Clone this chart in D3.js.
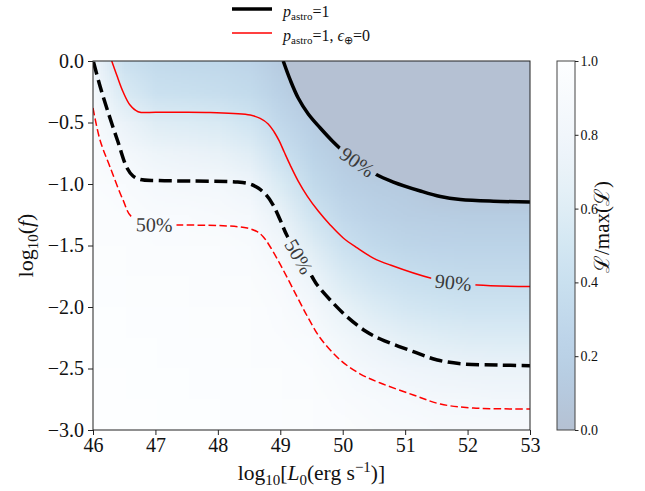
<!DOCTYPE html>
<html>
<head>
<meta charset="utf-8">
<script src="https://cdn.jsdelivr.net/npm/d3@7"></script>
<style>
  body { margin: 0; background: #fff; }
  svg text { font-family: "Liberation Serif", "Times New Roman", serif; }
</style>
</head>
<body>
<div id="chart"></div>
<script>
// ************** data *************************************
// likelihood grid: columns = log10 L0, rows = log10 f (top to bottom)
var xVals = [46, 46.5, 47, 47.5, 48, 48.5, 49, 49.5, 50, 50.5, 51, 51.5, 52, 52.5, 53];
var yVals = [0, -0.25, -0.5, -0.75, -1, -1.25, -1.5, -1.75, -2, -2.25, -2.5, -2.75, -3];
var likeRows = [
  [0.78, 0.42, 0.33, 0.31, 0.29, 0.26, 0.14, 0.00, 0.00, 0.00, 0.00, 0.00, 0.00, 0.00, 0.00],
  [0.86, 0.55, 0.42, 0.40, 0.38, 0.33, 0.20, 0.08, 0.00, 0.00, 0.00, 0.00, 0.00, 0.00, 0.00],
  [0.90, 0.72, 0.60, 0.58, 0.55, 0.47, 0.30, 0.17, 0.05, 0.00, 0.00, 0.00, 0.00, 0.00, 0.00],
  [0.94, 0.85, 0.76, 0.73, 0.70, 0.62, 0.42, 0.24, 0.14, 0.04, 0.00, 0.00, 0.00, 0.00, 0.00],
  [0.96, 0.92, 0.88, 0.86, 0.84, 0.77, 0.56, 0.33, 0.20, 0.15, 0.12, 0.05, 0.02, 0.02, 0.02],
  [0.97, 0.95, 0.93, 0.92, 0.91, 0.87, 0.70, 0.46, 0.30, 0.22, 0.18, 0.16, 0.15, 0.15, 0.15],
  [0.98, 0.97, 0.96, 0.95, 0.95, 0.93, 0.82, 0.60, 0.42, 0.32, 0.27, 0.25, 0.24, 0.24, 0.24],
  [0.99, 0.98, 0.97, 0.97, 0.96, 0.95, 0.90, 0.74, 0.55, 0.45, 0.39, 0.36, 0.34, 0.34, 0.34],
  [0.99, 0.99, 0.98, 0.98, 0.97, 0.97, 0.94, 0.85, 0.69, 0.58, 0.51, 0.47, 0.45, 0.45, 0.45],
  [1.00, 0.99, 0.99, 0.98, 0.98, 0.97, 0.96, 0.92, 0.81, 0.72, 0.65, 0.61, 0.59, 0.58, 0.58],
  [1.00, 1.00, 0.99, 0.99, 0.98, 0.98, 0.97, 0.95, 0.89, 0.83, 0.78, 0.75, 0.73, 0.72, 0.72],
  [1.00, 1.00, 1.00, 0.99, 0.99, 0.98, 0.98, 0.97, 0.94, 0.90, 0.87, 0.85, 0.84, 0.83, 0.83],
  [1.00, 1.00, 1.00, 1.00, 0.99, 0.99, 0.98, 0.98, 0.97, 0.94, 0.92, 0.91, 0.90, 0.90, 0.90]
];

// contours [log10 L0, log10 f]
var astro90 = [[49.047, 0], [49.159, -0.154], [49.287, -0.301], [49.448, -0.431], [49.640, -0.545],
  [49.833, -0.650], [50.041, -0.748], [50.282, -0.837], [50.522, -0.919], [50.811, -0.984],
  [51.244, -1.057], [51.564, -1.102], [51.885, -1.126], [52.414, -1.140], [53.0, -1.146]];
var astro50 = [[46.008, -0.008], [46.112, -0.203], [46.241, -0.415], [46.401, -0.659], [46.545, -0.870],
  [46.641, -0.935], [46.754, -0.963], [47.026, -0.972], [47.555, -0.976], [48.309, -0.984],
  [48.518, -1.000], [48.646, -1.033], [48.774, -1.089], [48.886, -1.171], [48.999, -1.293],
  [49.111, -1.423], [49.319, -1.593], [49.512, -1.756], [49.592, -1.821], [49.800, -1.943],
  [50.073, -2.081], [50.362, -2.195], [50.602, -2.260], [51.131, -2.363], [51.516, -2.431],
  [51.933, -2.463], [52.478, -2.472], [53.0, -2.477]];
var noEarth90 = [[46.300, 0], [46.380, -0.114], [46.481, -0.250], [46.593, -0.358], [46.722, -0.412],
  [47.021, -0.417], [47.876, -0.419], [48.518, -0.439], [48.678, -0.467], [48.806, -0.512],
  [48.902, -0.577], [48.983, -0.650], [49.063, -0.740], [49.159, -0.846], [49.287, -0.976],
  [49.432, -1.098], [49.608, -1.220], [49.800, -1.333], [50.009, -1.439], [50.233, -1.520],
  [50.490, -1.602], [50.763, -1.659], [51.404, -1.764], [51.789, -1.797], [52.158, -1.821],
  [53.0, -1.833]];
var noEarth50 = [[46.0, -0.382], [46.112, -0.642], [46.273, -0.862], [46.481, -1.130], [46.621, -1.268],
  [46.994, -1.329], [47.363, -1.333], [48.085, -1.339], [48.470, -1.358], [48.630, -1.388],
  [48.726, -1.428], [48.838, -1.510], [49.047, -1.699], [49.271, -1.919], [49.448, -2.089],
  [49.640, -2.252], [49.961, -2.431], [50.282, -2.545], [50.602, -2.618], [51.131, -2.715],
  [51.564, -2.789], [52.094, -2.821], [53.0, -2.829]];

var xTicks = [46, 47, 48, 49, 50, 51, 52, 53];
var yTicks = [0, -0.5, -1, -1.5, -2, -2.5, -3];
var cbTicks = [0, 0.2, 0.4, 0.6, 0.8, 1];

// ************** layout *****************
var widthTotal = 645, heightTotal = 491;
var plot = {left: 93, right: 530, top: 61, bottom: 430};
var cb = {left: 557, right: 575, top: 61, bottom: 430};

var x = d3.scaleLinear().domain([46, 53]).range([plot.left, plot.right]);
var y = d3.scaleLinear().domain([-3, 0]).range([plot.bottom, plot.top]);
var cbScale = d3.scaleLinear().domain([0, 1]).range([cb.bottom, cb.top]);

// Blues_r drawn with alpha 0.3 on white
function likeColor(v) {
  var c = d3.rgb(d3.interpolateBlues(1 - v)), a = 0.3;
  return d3.rgb(255 * (1 - a) + c.r * a, 255 * (1 - a) + c.g * a, 255 * (1 - a) + c.b * a);
}

var svg = d3.select("#chart").append("svg")
  .attr("width", widthTotal)
  .attr("height", heightTotal);
var defs = svg.append("defs");

defs.append("clipPath").attr("id", "plotClip")
  .append("rect")
  .attr("x", plot.left).attr("y", plot.top)
  .attr("width", plot.right - plot.left).attr("height", plot.bottom - plot.top);

//heatmap, one pixel per grid cell, smoothed by the browser
var canvas = document.createElement("canvas");
canvas.width = xVals.length;
canvas.height = yVals.length;
var ctx = canvas.getContext("2d");
var img = ctx.createImageData(canvas.width, canvas.height);
likeRows.forEach(function(row, j) {
  row.forEach(function(v, i) {
    var c = likeColor(v), k = (j * canvas.width + i) * 4;
    img.data[k] = Math.round(c.r);
    img.data[k + 1] = Math.round(c.g);
    img.data[k + 2] = Math.round(c.b);
    img.data[k + 3] = 255;
  });
});
ctx.putImageData(img, 0, 0);

var halfX = (xVals[1] - xVals[0]) / 2, halfY = (yVals[0] - yVals[1]) / 2;
var gPlot = svg.append("g").attr("clip-path", "url(#plotClip)");
gPlot.append("image")
  .attr("href", canvas.toDataURL())
  .attr("x", x(xVals[0] - halfX))
  .attr("y", y(yVals[0] + halfY))
  .attr("width", x(xVals[xVals.length - 1] + halfX) - x(xVals[0] - halfX))
  .attr("height", y(yVals[yVals.length - 1] - halfY) - y(yVals[0] + halfY))
  .attr("preserveAspectRatio", "none")
  .style("image-rendering", "auto");

var line = d3.line()
  .x(function(d) { return x(d[0]); })
  .y(function(d) { return y(d[1]); })
  .curve(d3.curveCatmullRom.alpha(0.5));

//excluded region above the 90% contour
gPlot.append("path")
  .attr("d", line(astro90) + "L" + x(53) + "," + y(0) + "Z")
  .attr("fill", likeColor(0));

//contours with inline labels
var contours = [
  {id: "c1", data: noEarth50, color: "#ff0000", width: 1.5, dash: "7.5,3.3", label: "50%", at: [46.98, -1.33], angle: 1},
  {id: "c2", data: astro50, color: "#000", width: 3.5, dash: "13,5.5", label: "50%", at: [49.30, -1.59], angle: 60},
  {id: "c3", data: noEarth90, color: "#ff0000", width: 1.5, dash: null, label: "90%", at: [51.77, -1.80], angle: 6},
  {id: "c4", data: astro90, color: "#000", width: 3.5, dash: null, label: "90%", at: [50.234, -0.821], angle: 35}
];

var gLabels = svg.append("g");
contours.forEach(function(c) {
  var px = x(c.at[0]), py = y(c.at[1]);
  var t = gLabels.append("text")
    .attr("transform", "translate(" + px + "," + py + ") rotate(" + c.angle + ")")
    .attr("text-anchor", "middle")
    .attr("dy", "0.35em")
    .attr("font-size", "20px")
    .attr("fill", "#3a3a3a")
    .text(c.label);
  var w = t.node().getComputedTextLength();

  var mask = defs.append("mask").attr("id", c.id)
    .attr("maskUnits", "userSpaceOnUse")
    .attr("x", 0).attr("y", 0).attr("width", widthTotal).attr("height", heightTotal);
  mask.append("rect").attr("width", widthTotal).attr("height", heightTotal).attr("fill", "white");
  mask.append("rect")
    .attr("x", -w / 2 - 4).attr("y", -9)
    .attr("width", w + 8).attr("height", 18)
    .attr("transform", "translate(" + px + "," + py + ") rotate(" + c.angle + ")")
    .attr("fill", "black");

  gPlot.append("g").attr("mask", "url(#" + c.id + ")")
    .append("path")
    .attr("d", line(c.data))
    .attr("fill", "none")
    .attr("stroke", c.color)
    .attr("stroke-width", c.width)
    .attr("stroke-dasharray", c.dash);
});

//frame
svg.append("rect")
  .attr("x", plot.left).attr("y", plot.top)
  .attr("width", plot.right - plot.left).attr("height", plot.bottom - plot.top)
  .attr("fill", "none").attr("stroke", "#222").attr("stroke-width", 1);

//axes
var xAxis = svg.append("g")
  .attr("transform", "translate(0," + plot.bottom + ")")
  .call(d3.axisBottom(x).tickValues(xTicks).tickFormat(d3.format("d")).tickSize(5).tickPadding(3));
var yAxis = svg.append("g")
  .attr("transform", "translate(" + plot.left + ",0)")
  .call(d3.axisLeft(y).tickValues(yTicks).tickFormat(d3.format(".1f")).tickSize(5).tickPadding(4));
[xAxis, yAxis].forEach(function(a) {
  a.select(".domain").remove();
  a.selectAll(".tick line").attr("stroke", "#222");
  a.selectAll(".tick text").attr("font-size", "20px").attr("fill", "#111")
    .style("font-family", "'Liberation Serif', serif");
});

//axis titles
var xTitle = svg.append("text")
  .attr("x", (plot.left + plot.right) / 2).attr("y", 480)
  .attr("text-anchor", "middle").attr("font-size", "21.5px").attr("fill", "#111");
xTitle.append("tspan").text("log");
xTitle.append("tspan").attr("font-size", "15px").attr("dy", 5).text("10");
xTitle.append("tspan").attr("dy", -5).text("[");
xTitle.append("tspan").attr("font-style", "italic").text("L");
xTitle.append("tspan").attr("font-size", "15px").attr("dy", 5).text("0");
xTitle.append("tspan").attr("dy", -5).text("(erg s");
xTitle.append("tspan").attr("font-size", "15px").attr("dy", -8).text("\u22121");
xTitle.append("tspan").attr("dy", 8).text(")]");

var yTitle = svg.append("text")
  .attr("transform", "translate(33," + (plot.top + plot.bottom) / 2 + ") rotate(-90)")
  .attr("text-anchor", "middle").attr("font-size", "22px").attr("fill", "#111");
yTitle.append("tspan").text("log");
yTitle.append("tspan").attr("font-size", "15px").attr("dy", 5).text("10");
yTitle.append("tspan").attr("dy", -5).text("(");
yTitle.append("tspan").attr("font-style", "italic").text("f");
yTitle.append("tspan").text(")");

//colorbar
var grad = defs.append("linearGradient").attr("id", "cbGrad")
  .attr("x1", 0).attr("y1", 1).attr("x2", 0).attr("y2", 0);
d3.range(0, 1.0001, 0.05).forEach(function(v) {
  grad.append("stop").attr("offset", v).attr("stop-color", likeColor(v));
});
svg.append("rect")
  .attr("x", cb.left).attr("y", cb.top)
  .attr("width", cb.right - cb.left).attr("height", cb.bottom - cb.top)
  .attr("fill", "url(#cbGrad)").attr("stroke", "#444").attr("stroke-width", 1);
var cbAxis = svg.append("g")
  .attr("transform", "translate(" + cb.right + ",0)")
  .call(d3.axisRight(cbScale).tickValues(cbTicks).tickFormat(d3.format(".1f")).tickSize(3.5).tickPadding(2));
cbAxis.select(".domain").remove();
cbAxis.selectAll(".tick line").attr("stroke", "#222");
cbAxis.selectAll(".tick text").attr("font-size", "14px").attr("fill", "#111")
  .style("font-family", "'Liberation Serif', serif");

svg.append("text")
  .attr("transform", "translate(609,227) rotate(-90)")
  .attr("text-anchor", "middle").attr("font-size", "21px").attr("fill", "#111")
  .text("\u2112/max(\u2112)");

//legend
var legendRows = [
  {color: "#000", width: 3.5, main: "=1", extra: null},
  {color: "#ff0000", width: 1.6, main: "=1, ", extra: true}
];
legendRows.forEach(function(r, i) {
  var ly = 9 + i * 24;
  svg.append("line")
    .attr("x1", 232).attr("x2", 272).attr("y1", ly).attr("y2", ly)
    .attr("stroke", r.color).attr("stroke-width", r.width);
  var t = svg.append("text")
    .attr("x", 283).attr("y", ly + 7.5)
    .attr("font-size", "16px").attr("fill", "#111");
  t.append("tspan").attr("font-style", "italic").text("p");
  t.append("tspan").attr("font-size", "11px").attr("dy", 3).text("astro");
  t.append("tspan").attr("dy", -3).text(r.main);
  if (r.extra) {
    t.append("tspan").attr("font-style", "italic").text("\u03f5");
    t.append("tspan").attr("font-size", "11px").attr("dy", 3).text("\u2295");
    t.append("tspan").attr("dy", -3).text("=0");
  }
});
</script>
</body>
</html>
